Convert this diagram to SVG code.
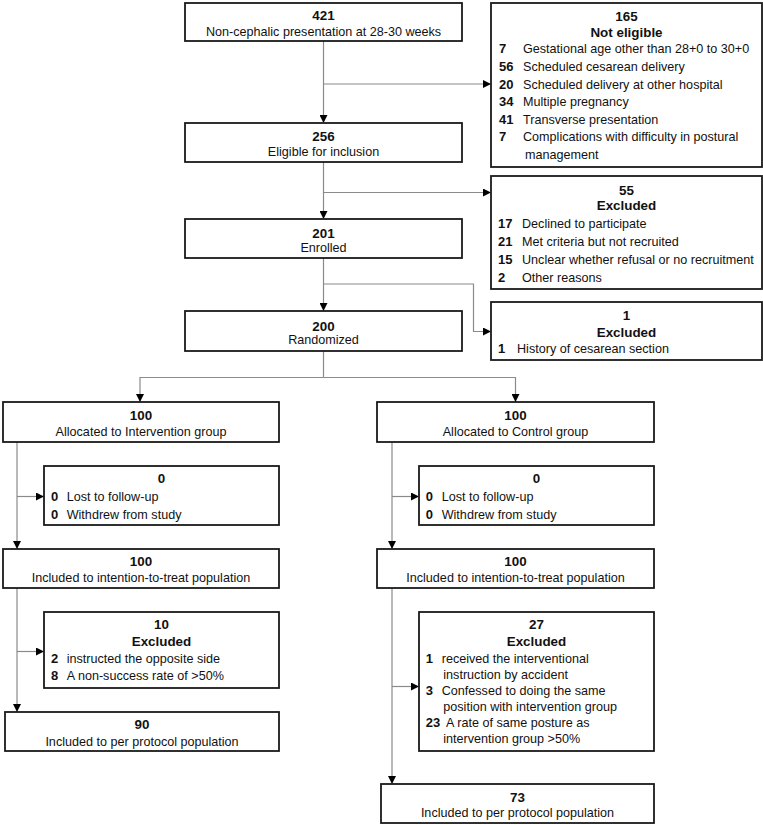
<svg xmlns="http://www.w3.org/2000/svg" width="763" height="825" viewBox="0 0 763 825">
<style>
.box{fill:#fff;stroke:#1a1a1a;stroke-width:1.8}
.h{font-family:"Liberation Sans",Arial,sans-serif;font-weight:bold;font-size:13.4px;fill:#111;text-anchor:middle}
.c{font-family:"Liberation Sans",Arial,sans-serif;font-size:12.6px;fill:#111;text-anchor:middle}
.n{font-family:"Liberation Sans",Arial,sans-serif;font-weight:bold;font-size:13px;fill:#111}
.t{font-family:"Liberation Sans",Arial,sans-serif;font-size:12.6px;fill:#111}
.ln{fill:none;stroke:#8a8a8a;stroke-width:1.2}
.la{fill:none;stroke:#8a8a8a;stroke-width:1.2;marker-end:url(#ah)}
</style>
<defs>
<marker id="ah" viewBox="0 0 10 10" refX="10" refY="5" markerWidth="8" markerHeight="8" markerUnits="userSpaceOnUse" orient="auto">
<path d="M0,0 L10,5 L0,10 z" fill="#000"/>
</marker>
</defs>
<rect width="763" height="825" fill="#fff"/>
<g id="connectors">
<path class="la" d="M323.5,41 V123"/>
<path class="la" d="M323.5,84 H491"/>
<path class="la" d="M323.5,162 V219"/>
<path class="la" d="M323.5,192.5 H491"/>
<path class="la" d="M323.5,258 V311"/>
<path class="la" d="M323.5,284 H473.5 V331.5 H491"/>
<path class="ln" d="M323.5,351 V377.5"/>
<path class="la" d="M323.5,377.5 H140 V402"/>
<path class="la" d="M323.5,377.5 H515.5 V402"/>
<path class="la" d="M17,442 V549"/>
<path class="la" d="M17,496.5 H44"/>
<path class="la" d="M17,588 V712"/>
<path class="la" d="M17,651.5 H44"/>
<path class="la" d="M392,442 V549"/>
<path class="la" d="M392,496.5 H419"/>
<path class="la" d="M392,588 V784"/>
<path class="la" d="M392,686.5 H419"/>
</g>
<g id="n421">
<rect class="box" x="185" y="3" width="277" height="38"/>
<text class="h" x="323.5" y="20">421</text>
<text class="c" x="323.5" y="36">Non-cephalic presentation at 28-30 weeks</text>
</g>
<g id="notEligible">
<rect class="box" x="491" y="3" width="271" height="164"/>
<text class="h" x="626.5" y="21">165</text>
<text class="h" x="626.5" y="37">Not eligible</text>
<text class="n" x="499" y="52.5">7</text><text class="t" x="523" y="52.5">Gestational age other than 28+0 to 30+0</text>
<text class="n" x="499" y="70.5">56</text><text class="t" x="523" y="70.5">Scheduled cesarean delivery</text>
<text class="n" x="499" y="88.5">20</text><text class="t" x="523" y="88.5">Scheduled delivery at other hospital</text>
<text class="n" x="499" y="106">34</text><text class="t" x="523" y="106">Multiple pregnancy</text>
<text class="n" x="499" y="123.5">41</text><text class="t" x="523" y="123.5">Transverse presentation</text>
<text class="n" x="499" y="141">7</text><text class="t" x="523" y="141">Complications with difficulty in postural</text>
<text class="t" x="525" y="158.5">management</text>
</g>
<g id="n256">
<rect class="box" x="185" y="123" width="277" height="39"/>
<text class="h" x="323.5" y="140.8">256</text>
<text class="c" x="323.5" y="156.2">Eligible for inclusion</text>
</g>
<g id="excluded55">
<rect class="box" x="491" y="176" width="271" height="113"/>
<text class="h" x="626.5" y="194.8">55</text>
<text class="h" x="626.5" y="209.8">Excluded</text>
<text class="n" x="498" y="227.5">17</text><text class="t" x="522" y="227.5">Declined to participate</text>
<text class="n" x="498" y="245.5">21</text><text class="t" x="522" y="245.5">Met criteria but not recruited</text>
<text class="n" x="498" y="263.5">15</text><text class="t" x="522" y="263.5">Unclear whether refusal or no recruitment</text>
<text class="n" x="498" y="281.5">2</text><text class="t" x="522" y="281.5">Other reasons</text>
</g>
<g id="n201">
<rect class="box" x="185" y="219" width="277" height="39"/>
<text class="h" x="323.5" y="238">201</text>
<text class="c" x="323.5" y="252.2">Enrolled</text>
</g>
<g id="excluded1">
<rect class="box" x="491" y="302" width="271" height="58"/>
<text class="h" x="626.5" y="319.8">1</text>
<text class="h" x="626.5" y="336.5">Excluded</text>
<text class="n" x="498" y="352.8">1</text><text class="t" x="517" y="352.8">History of cesarean section</text>
</g>
<g id="n200">
<rect class="box" x="185" y="311" width="277" height="40"/>
<text class="h" x="323.5" y="330.5">200</text>
<text class="c" x="323.5" y="343.8">Randomized</text>
</g>
<g id="allocInt">
<rect class="box" x="3" y="402" width="276" height="40"/>
<text class="h" x="141" y="419.8">100</text>
<text class="c" x="141" y="435.5">Allocated to Intervention group</text>
</g>
<g id="lostInt">
<rect class="box" x="44" y="466" width="235" height="59"/>
<text class="h" x="161.5" y="483">0</text>
<text class="n" x="51" y="501">0</text><text class="t" x="66.7" y="501">Lost to follow-up</text>
<text class="n" x="51" y="518.5">0</text><text class="t" x="66.7" y="518.5">Withdrew from study</text>
</g>
<g id="ittInt">
<rect class="box" x="3" y="549" width="276" height="39"/>
<text class="h" x="141" y="565.5">100</text>
<text class="c" x="141" y="582">Included to intention-to-treat population</text>
</g>
<g id="exclInt">
<rect class="box" x="44" y="612" width="235" height="76"/>
<text class="h" x="161.5" y="629">10</text>
<text class="h" x="161.5" y="646">Excluded</text>
<text class="n" x="51" y="663">2</text><text class="t" x="66.7" y="663">instructed the opposite side</text>
<text class="n" x="51" y="680">8</text><text class="t" x="66.7" y="680">A non-success rate of &gt;50%</text>
</g>
<g id="ppInt">
<rect class="box" x="5" y="712" width="274" height="39"/>
<text class="h" x="142" y="729">90</text>
<text class="c" x="142" y="745.5">Included to per protocol population</text>
</g>
<g id="allocCtl">
<rect class="box" x="377" y="402" width="277" height="40"/>
<text class="h" x="515.5" y="419.8">100</text>
<text class="c" x="515.5" y="435.5">Allocated to Control group</text>
</g>
<g id="lostCtl">
<rect class="box" x="419" y="466" width="235" height="59"/>
<text class="h" x="536.5" y="483">0</text>
<text class="n" x="425.7" y="501">0</text><text class="t" x="441.7" y="501">Lost to follow-up</text>
<text class="n" x="425.7" y="518.5">0</text><text class="t" x="441.7" y="518.5">Withdrew from study</text>
</g>
<g id="ittCtl">
<rect class="box" x="377" y="549" width="277" height="39"/>
<text class="h" x="515.5" y="565.5">100</text>
<text class="c" x="515.5" y="582">Included to intention-to-treat population</text>
</g>
<g id="exclCtl">
<rect class="box" x="419" y="612" width="235" height="139"/>
<text class="h" x="536.5" y="629">27</text>
<text class="h" x="536.5" y="646">Excluded</text>
<text class="n" x="425.7" y="663.2">1</text><text class="t" x="441.7" y="663.2">received the interventional</text>
<text class="t" x="443.3" y="678.8">instruction by accident</text>
<text class="n" x="425.7" y="695.2">3</text><text class="t" x="441.7" y="695.2">Confessed to doing the same</text>
<text class="t" x="443.3" y="711.2">position with intervention group</text>
<text class="n" x="425.7" y="727.2">23</text><text class="t" x="446" y="727.2">A rate of same posture as</text>
<text class="t" x="443.3" y="743.2">intervention group &gt;50%</text>
</g>
<g id="ppCtl">
<rect class="box" x="381" y="784" width="273" height="39"/>
<text class="h" x="517.5" y="801.5">73</text>
<text class="c" x="517.5" y="817">Included to per protocol population</text>
</g>
</svg>
